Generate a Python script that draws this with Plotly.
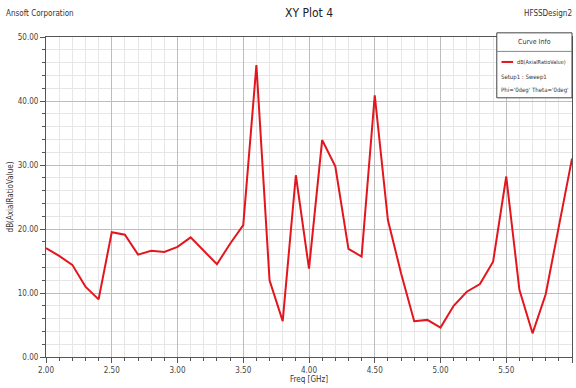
import plotly.graph_objects as go

freq = [2.0, 2.1, 2.2, 2.3, 2.4, 2.5, 2.6, 2.7, 2.8, 2.9, 3.0, 3.1, 3.2, 3.3, 3.4, 3.5,
        3.6, 3.7, 3.8, 3.9, 4.0, 4.1, 4.2, 4.3, 4.4, 4.5, 4.6, 4.7, 4.8, 4.9, 5.0,
        5.1, 5.2, 5.3, 5.4, 5.5, 5.6, 5.7, 5.8, 5.9, 6.0]
axial_ratio_db = [17.0, 15.8, 14.4, 11.0, 9.0, 19.5, 19.1, 16.0, 16.6, 16.4, 17.2, 18.7,
                  16.6, 14.5, 17.7, 20.6, 45.6, 12.0, 5.6, 28.4, 13.8, 33.9, 29.8, 16.9,
                  15.7, 40.9, 21.4, 13.1, 5.6, 5.8, 4.6, 8.0, 10.2, 11.4, 14.9, 28.2,
                  10.5, 3.7, 9.8, 20.4, 31.0]
x_ticks = [2.0, 2.5, 3.0, 3.5, 4.0, 4.5, 5.0, 5.5, 6.0]
y_ticks = [0, 10, 20, 30, 40, 50]

FONT = "Liberation Sans Narrow, DejaVu Sans Condensed, Liberation Sans, Arial, sans-serif"
RED = "#e3161d"

fig = go.Figure()
fig.add_trace(go.Scatter(x=freq, y=axial_ratio_db, mode="lines",
                         line=dict(color=RED, width=2), showlegend=False,
                         name="dB(AxialRatioValue)"))

axis_common = dict(showline=True, linecolor="#555555", linewidth=1, mirror=True,
                   ticks="outside", ticklen=5, tickcolor="#555555",
                   gridcolor="#bdbdbd", gridwidth=1, zeroline=False,
                   tickfont=dict(family=FONT, size=8, color="#444444"))

fig.update_layout(
    width=576, height=388,
    margin=dict(l=46, r=4, t=37, b=31),
    paper_bgcolor="white", plot_bgcolor="white",
    font=dict(family=FONT, color="#333333"),
    xaxis=dict(range=[2.0, 6.0], tickvals=x_ticks, ticktext=[f"{v:.2f}" for v in x_ticks],
               title=dict(text="Freq [GHz]", font=dict(family=FONT, size=8), standoff=2),
               minor=dict(dtick=0.1, showgrid=True, gridcolor="#e6e6e6", ticks="outside",
                          ticklen=3, tickcolor="#555555"),
               **axis_common),
    yaxis=dict(range=[0, 50], tickvals=y_ticks, ticktext=[f"{v:.2f}" for v in y_ticks],
               title=dict(text="dB(AxialRatioValue)", font=dict(family=FONT, size=8), standoff=2),
               minor=dict(dtick=2, showgrid=True, gridcolor="#e6e6e6", ticks="outside",
                          ticklen=3, tickcolor="#555555"),
               **axis_common),
)

# header texts
fig.add_annotation(text="XY Plot 4", xref="paper", yref="paper", x=0.5, y=1.0,
                   yshift=24, xanchor="center", yanchor="middle", showarrow=False,
                   font=dict(family=FONT, size=12, color="#222222"))
fig.add_annotation(text="Ansoft Corporation", xref="paper", yref="paper", x=0, y=1.0,
                   xshift=-42, yshift=24, xanchor="left", yanchor="middle", showarrow=False,
                   font=dict(family=FONT, size=8, color="#333333"))
fig.add_annotation(text="HFSSDesign2", xref="paper", yref="paper", x=1.0, y=1.0,
                   xshift=2, yshift=24, xanchor="right", yanchor="middle", showarrow=False,
                   font=dict(family=FONT, size=8, color="#333333"))

# curve info box
bx0, bx1 = 0.857, 1.0
by0, by1 = 0.81, 1.013
fig.add_shape(type="rect", xref="paper", yref="paper", x0=bx0, x1=bx1, y0=by0, y1=by1,
              line=dict(color="#444444", width=1), fillcolor="white", layer="above")
fig.add_shape(type="line", xref="paper", yref="paper", x0=bx0, x1=bx1, y0=0.955, y1=0.955,
              line=dict(color="#888888", width=1), layer="above")
fig.add_annotation(text="Curve Info", xref="paper", yref="paper", x=(bx0 + bx1) / 2, y=0.984,
                   xanchor="center", yanchor="middle", showarrow=False,
                   font=dict(family=FONT, size=7, color="#333333"))
fig.add_shape(type="line", xref="paper", yref="paper", x0=0.866, x1=0.888, y0=0.922, y1=0.922,
              line=dict(color=RED, width=2), layer="above")
fig.add_annotation(text="dB(AxialRatioValue)", xref="paper", yref="paper", x=0.892, y=0.922,
                   xanchor="left", yanchor="middle", showarrow=False,
                   font=dict(family=FONT, size=5.5, color="#333333"))
fig.add_annotation(text="Setup1 : Sweep1", xref="paper", yref="paper", x=0.862, y=0.876,
                   xanchor="left", yanchor="middle", showarrow=False,
                   font=dict(family=FONT, size=6, color="#333333"))
fig.add_annotation(text="Phi='0deg' Theta='0deg'", xref="paper", yref="paper", x=0.862, y=0.834,
                   xanchor="left", yanchor="middle", showarrow=False,
                   font=dict(family=FONT, size=6, color="#333333"))

fig.write_html("out.html")
